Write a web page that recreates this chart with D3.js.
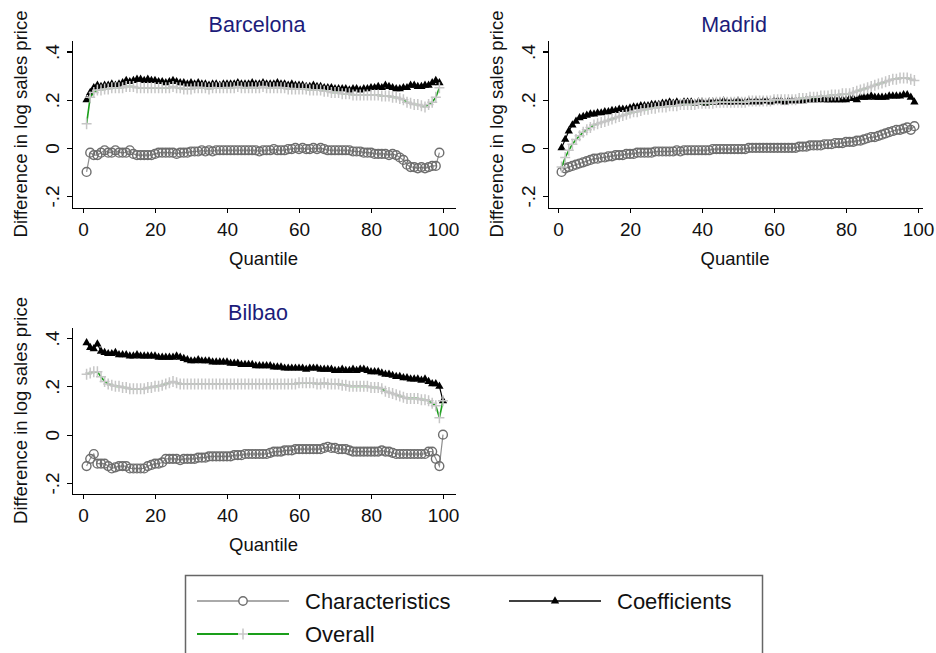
<!DOCTYPE html>
<meta charset="utf-8">
<style>
body {
  margin: 0;
  background: #fff;
}
svg {
  font-family: "Liberation Sans", Arial, sans-serif;
}
.axis path,
.axis line {
  fill: none;
  stroke: #000;
  stroke-width: 1.3px;
  shape-rendering: crispEdges;
}
.axis text {
  font-size: 19px;
  fill: #111;
}
.title {
  font-size: 21.5px;
  fill: #1c1c7a;
}
.label {
  font-size: 18.5px;
  fill: #111;
}
.legend text {
  font-size: 22px;
  fill: #111;
}
</style>
<body>
<svg width="936" height="653"></svg>
<script src="https://d3js.org/d3.v7.min.js"></script>
<script>
var xTicks = [0, 20, 40, 60, 80, 100];
var yTicks = [-0.2, 0, 0.2, 0.4];
var yTickLabels = ["-.2", "0", ".2", ".4"];
var seriesNames = ["Characteristics", "Coefficients", "Overall"];

// quantiles 1..99 (Bilbao 1..100)
var barcelonaChar = [
  -.10,-.02,-.03,-.03,-.02,-.01,-.02,-.02,-.01,-.02,
  -.02,-.02,-.01,-.025,-.03,-.03,-.03,-.03,-.03,-.025,
  -.02,-.02,-.02,-.02,-.02,-.025,-.02,-.02,-.02,-.015,
  -.015,-.015,-.01,-.015,-.01,-.015,-.01,-.01,-.01,-.01,
  -.01,-.01,-.01,-.01,-.01,-.01,-.01,-.01,-.015,-.01,
  -.01,-.01,-.005,-.01,-.01,-.01,-.005,-.005,0,-.005,
  0,-.005,-.005,0,-.005,0,-.005,-.01,-.01,-.01,
  -.01,-.01,-.01,-.01,-.015,-.015,-.015,-.02,-.02,-.02,
  -.025,-.025,-.025,-.025,-.03,-.025,-.03,-.04,-.05,-.07,
  -.08,-.08,-.085,-.08,-.085,-.08,-.075,-.075,-.02];
var barcelonaCoef = [
  .20,.23,.25,.26,.255,.26,.26,.265,.26,.265,
  .27,.28,.275,.28,.285,.285,.28,.285,.28,.28,
  .275,.275,.27,.275,.28,.275,.27,.27,.265,.27,
  .265,.27,.265,.265,.26,.265,.265,.26,.265,.265,
  .265,.265,.27,.265,.265,.265,.27,.265,.265,.27,
  .265,.265,.265,.27,.265,.265,.26,.265,.26,.26,
  .26,.255,.255,.26,.255,.255,.25,.25,.25,.245,
  .245,.245,.245,.24,.245,.245,.24,.245,.245,.25,
  .25,.255,.25,.26,.255,.25,.245,.245,.25,.25,
  .26,.26,.255,.255,.26,.26,.27,.28,.27];
var barcelonaOverall = [
  .10,.21,.23,.24,.24,.245,.245,.25,.25,.25,
  .25,.255,.255,.255,.25,.25,.25,.25,.25,.25,
  .25,.25,.25,.25,.255,.25,.25,.245,.245,.245,
  .25,.25,.25,.25,.245,.25,.25,.25,.25,.25,
  .25,.25,.255,.25,.25,.25,.25,.25,.25,.255,
  .25,.25,.25,.25,.25,.25,.245,.245,.245,.245,
  .245,.245,.24,.24,.24,.24,.235,.235,.23,.23,
  .23,.225,.225,.225,.22,.22,.22,.22,.22,.22,
  .22,.22,.215,.215,.215,.21,.21,.205,.20,.19,
  .185,.18,.18,.175,.17,.18,.19,.21,.25];

var madridChar = [
  -.10,-.085,-.08,-.075,-.07,-.065,-.06,-.055,-.05,-.045,
  -.045,-.04,-.04,-.035,-.035,-.03,-.03,-.03,-.025,-.025,
  -.025,-.02,-.02,-.02,-.02,-.02,-.015,-.015,-.015,-.015,
  -.015,-.015,-.01,-.015,-.01,-.01,-.01,-.01,-.01,-.01,
  -.01,-.01,-.005,-.005,-.005,-.005,-.005,-.005,-.005,-.005,
  -.005,-.005,0,0,0,0,0,0,0,0,
  0,0,0,0,0,0,.005,.005,.005,.01,
  .01,.01,.01,.015,.015,.015,.02,.02,.02,.025,
  .025,.025,.03,.03,.035,.04,.045,.045,.05,.055,
  .06,.065,.07,.075,.075,.08,.085,.075,.09];
var madridCoef = [
  0,.035,.07,.095,.11,.125,.13,.135,.14,.14,
  .145,.145,.15,.15,.155,.155,.16,.16,.16,.165,
  .17,.17,.175,.175,.175,.18,.18,.18,.185,.185,
  .19,.185,.19,.185,.19,.19,.19,.185,.19,.19,
  .185,.19,.19,.19,.19,.195,.19,.19,.19,.195,
  .19,.19,.195,.19,.195,.19,.195,.195,.19,.195,
  .195,.195,.19,.195,.195,.195,.195,.195,.20,.20,
  .20,.20,.205,.20,.20,.20,.20,.20,.20,.20,
  .205,.205,.20,.21,.21,.21,.215,.21,.21,.21,
  .21,.215,.215,.215,.215,.22,.22,.21,.19];
var madridOverall = [
  -.08,-.04,-.01,.015,.035,.05,.065,.075,.085,.095,
  .10,.105,.11,.115,.12,.125,.13,.135,.14,.145,
  .15,.15,.155,.16,.16,.165,.165,.17,.17,.17,
  .175,.175,.175,.18,.18,.18,.18,.18,.185,.185,
  .185,.185,.185,.19,.19,.19,.19,.19,.19,.19,
  .19,.19,.195,.195,.195,.195,.195,.195,.195,.20,
  .20,.20,.20,.20,.20,.20,.205,.205,.205,.21,
  .21,.21,.215,.215,.215,.22,.22,.22,.225,.225,
  .225,.23,.235,.24,.245,.25,.255,.26,.265,.27,
  .275,.28,.285,.285,.29,.29,.29,.285,.28];

var bilbaoChar = [
  -.13,-.10,-.08,-.12,-.12,-.12,-.13,-.14,-.135,-.13,
  -.13,-.13,-.14,-.14,-.14,-.14,-.14,-.13,-.125,-.12,
  -.12,-.115,-.10,-.10,-.10,-.10,-.105,-.10,-.10,-.10,
  -.10,-.095,-.095,-.095,-.09,-.09,-.09,-.09,-.09,-.09,
  -.09,-.085,-.085,-.085,-.08,-.08,-.08,-.08,-.08,-.08,
  -.08,-.075,-.07,-.07,-.07,-.065,-.065,-.065,-.06,-.06,
  -.06,-.06,-.06,-.06,-.06,-.06,-.055,-.05,-.055,-.055,
  -.06,-.06,-.06,-.065,-.07,-.07,-.07,-.07,-.07,-.07,
  -.07,-.07,-.065,-.07,-.07,-.075,-.08,-.08,-.08,-.08,
  -.08,-.08,-.08,-.08,-.08,-.07,-.07,-.10,-.13,0];
var bilbaoCoef = [
  .38,.36,.355,.375,.345,.34,.335,.335,.34,.33,
  .33,.33,.325,.325,.33,.325,.325,.325,.325,.325,
  .32,.32,.32,.32,.32,.325,.32,.315,.31,.305,
  .305,.31,.305,.305,.305,.30,.30,.30,.30,.30,
  .295,.295,.295,.29,.29,.29,.29,.285,.285,.285,
  .285,.285,.28,.28,.28,.275,.275,.275,.275,.275,
  .275,.27,.275,.275,.275,.27,.27,.27,.27,.265,
  .265,.27,.265,.265,.27,.265,.27,.27,.265,.26,
  .26,.26,.255,.25,.25,.245,.24,.24,.235,.235,
  .23,.23,.23,.225,.23,.22,.21,.21,.20,.14];
var bilbaoOverall = [
  .25,.255,.26,.26,.24,.22,.21,.205,.20,.20,
  .195,.195,.19,.19,.19,.19,.19,.195,.195,.20,
  .20,.205,.21,.215,.22,.215,.21,.21,.21,.21,
  .21,.21,.21,.21,.21,.21,.21,.21,.21,.21,
  .21,.21,.21,.21,.21,.21,.21,.21,.21,.21,
  .21,.21,.21,.21,.21,.21,.21,.21,.21,.215,
  .215,.215,.215,.215,.21,.21,.215,.21,.21,.21,
  .21,.205,.205,.20,.20,.20,.20,.20,.20,.195,
  .195,.195,.19,.18,.175,.17,.165,.16,.155,.15,
  .15,.15,.15,.145,.145,.14,.13,.12,.07,.14];

var svg = d3.select("svg");

var panels = [
  {title: "Barcelona", series: [barcelonaChar, barcelonaCoef, barcelonaOverall],
   left: 72, top: 40, bottom: 208, x0: 83, x100: 443, xEnd: 455, y4: 51.6, yM2: 196, titleX: 257, titleY: 32},
  {title: "Madrid", series: [madridChar, madridCoef, madridOverall],
   left: 548, top: 40, bottom: 208, x0: 558, x100: 918, xEnd: 922, y4: 51.6, yM2: 196, titleX: 734, titleY: 32},
  {title: "Bilbao", series: [bilbaoChar, bilbaoCoef, bilbaoOverall],
   left: 72, top: 327, bottom: 494, x0: 83, x100: 443, xEnd: 455, y4: 338, yM2: 483, titleX: 258, titleY: 320}
];

var charColor = "#6e6e6e",
    charLine = "#8e8e8e",
    coefColor = "#000",
    overallMarker = "#c6c6c6",
    overallLine = "#1a9e1a";

var plusPath = "M-5,0H5M0,-5.5V5.5";
var triPath = d3.symbol().type(d3.symbolTriangle).size(30)();

panels.forEach(function(p) {
  var xs = d3.scaleLinear().domain([0, 100]).range([p.x0, p.x100]);
  var ys = d3.scaleLinear().domain([-0.2, 0.4]).range([p.yM2, p.y4]);
  // extend domains to the axis ends, like Stata does
  var x = d3.scaleLinear().domain([xs.invert(p.left), xs.invert(p.xEnd)]).range([p.left, p.xEnd]);
  var y = d3.scaleLinear().domain([ys.invert(p.bottom), ys.invert(p.top)]).range([p.bottom, p.top]);

  var g = svg.append("g");

  var yAxis = g.append("g")
      .attr("class", "axis")
      .attr("transform", "translate(" + p.left + ",0)")
      .call(d3.axisLeft(y).tickValues(yTicks).tickSize(5).tickSizeOuter(0)
        .tickFormat(function(d, i) { return yTickLabels[i]; }));
  yAxis.selectAll("text")
      .attr("x", 0)
      .attr("dy", 0)
      .attr("text-anchor", "middle")
      .attr("transform", "translate(-13.5,0) rotate(-90)");

  var xAxis = g.append("g")
      .attr("class", "axis")
      .attr("transform", "translate(0," + p.bottom + ")")
      .call(d3.axisBottom(x).tickValues(xTicks).tickSize(5).tickSizeOuter(0));
  xAxis.selectAll("text").attr("y", 15);

  g.append("text")
      .attr("class", "title")
      .attr("x", p.titleX)
      .attr("y", p.titleY)
      .attr("text-anchor", "middle")
      .text(p.title);

  g.append("text")
      .attr("class", "label")
      .attr("x", (p.left + p.xEnd) / 2)
      .attr("y", p.bottom + 57)
      .attr("text-anchor", "middle")
      .text("Quantile");

  g.append("text")
      .attr("class", "label")
      .attr("transform", "translate(" + (p.left - 45) + "," + ((p.top + p.bottom) / 2) + ") rotate(-90)")
      .attr("text-anchor", "middle")
      .text("Difference in log sales price");

  var line = d3.line()
      .x(function(d, i) { return x(i + 1); })
      .y(function(d) { return y(d); });

  // characteristics
  g.append("path")
      .datum(p.series[0])
      .attr("fill", "none")
      .attr("stroke", charLine)
      .attr("stroke-width", 1.2)
      .attr("d", line);
  g.selectAll(".char")
      .data(p.series[0])
    .enter().append("circle")
      .attr("class", "char")
      .attr("cx", function(d, i) { return x(i + 1); })
      .attr("cy", function(d) { return y(d); })
      .attr("r", 4.4)
      .attr("fill", "none")
      .attr("stroke", charColor)
      .attr("stroke-width", 1.4);

  // coefficients
  g.append("path")
      .datum(p.series[1])
      .attr("fill", "none")
      .attr("stroke", coefColor)
      .attr("stroke-width", 1.2)
      .attr("d", line);
  g.selectAll(".coef")
      .data(p.series[1])
    .enter().append("path")
      .attr("class", "coef")
      .attr("transform", function(d, i) { return "translate(" + x(i + 1) + "," + y(d) + ")"; })
      .attr("d", triPath)
      .attr("fill", coefColor);

  // overall
  g.append("path")
      .datum(p.series[2])
      .attr("fill", "none")
      .attr("stroke", overallLine)
      .attr("stroke-width", 1.6)
      .attr("d", line);
  g.selectAll(".overall")
      .data(p.series[2])
    .enter().append("path")
      .attr("class", "overall")
      .attr("transform", function(d, i) { return "translate(" + x(i + 1) + "," + y(d) + ")"; })
      .attr("d", plusPath)
      .attr("fill", "none")
      .attr("stroke", overallMarker)
      .attr("stroke-width", 1.5);
});

// legend
var legend = svg.append("g").attr("class", "legend");
legend.append("rect")
    .attr("x", 185.5)
    .attr("y", 575.5)
    .attr("width", 577)
    .attr("height", 100)
    .attr("fill", "#fff")
    .attr("stroke", "#666")
    .attr("stroke-width", 1.5);

var items = [
  {x: 197, y: 601, lineColor: charLine, text: seriesNames[0]},
  {x: 509, y: 601, lineColor: coefColor, text: seriesNames[1]},
  {x: 197, y: 634, lineColor: overallLine, text: seriesNames[2]}
];
items.forEach(function(it, i) {
  legend.append("line")
      .attr("x1", it.x).attr("x2", it.x + 92)
      .attr("y1", it.y).attr("y2", it.y)
      .attr("stroke", it.lineColor)
      .attr("stroke-width", i == 2 ? 1.8 : 1.3);
  var mx = it.x + 46;
  if (i == 0) {
    legend.append("circle").attr("cx", mx).attr("cy", it.y).attr("r", 4.2)
        .attr("fill", "#fff").attr("stroke", charColor).attr("stroke-width", 1.4);
  } else if (i == 1) {
    legend.append("path").attr("transform", "translate(" + mx + "," + it.y + ")")
        .attr("d", triPath).attr("fill", coefColor);
  } else {
    legend.append("rect").attr("x", mx - 5).attr("y", it.y - 6).attr("width", 10).attr("height", 12)
        .attr("fill", "#fff");
    legend.append("path").attr("transform", "translate(" + mx + "," + it.y + ")")
        .attr("d", plusPath).attr("fill", "none").attr("stroke", overallMarker).attr("stroke-width", 1.5);
  }
  legend.append("text")
      .attr("x", it.x + 108)
      .attr("y", it.y + 8)
      .text(it.text);
});
</script>
</body>
</html>
